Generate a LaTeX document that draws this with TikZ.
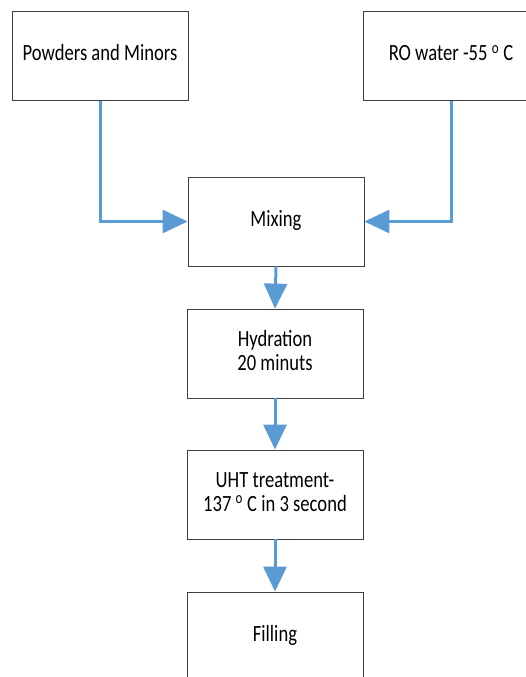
\documentclass[tikz,border=0pt]{standalone}
\usepackage{fontspec}
\usepackage{graphicx}
\setmainfont{Carlito}
\usetikzlibrary{arrows.meta}
\definecolor{flowblue}{RGB}{91,155,213}
\newcommand{\tall}[1]{\raisebox{-3pt}{\scalebox{1}[1.25]{\begin{tabular}{@{}c@{}}#1\end{tabular}}}}

\begin{document}
\begin{tikzpicture}[
  x=1pt, y=-1pt,
  font=\fontsize{18.6}{19.5}\selectfont,
  box/.style={draw=black!75, line width=0.8pt, fill=white, align=center,
    minimum width=176pt, minimum height=89pt, inner sep=0pt},
  flow/.style={-{Triangle[length=25pt, width=23pt]}, flowblue, line width=3pt},
]
\clip (0,0) rectangle (526,677);

% ---------- INPUTS ----------
\node[box] (pw) at (100,56) {\tall{Powders and Minors}};
\node[box] (ro) at (451,56) {\tall{RO water -55 \textsuperscript{o} C}};

% ---------- PROCESS ----------
\node[box] (mix) at (276,221.5) {\tall{Mixing}};
\node[box] (hyd) at (275,353.5) {\tall{Hydration\\20 minuts}};
\node[box] (uht) at (275,494.5) {\tall{UHT treatment-\\137 \textsuperscript{o} C in 3 second}};
\node[box] (fil) at (275,636.5) {\tall{Filling}};

% ---------- FLOW ARROWS ----------
\draw[flow] (pw.south) |- (mix.west);
\draw[flow] (ro.south) |- (mix.east);
\draw[flow] (mix.south) -- (hyd.north);
\draw[flow] (hyd.south) -- (uht.north);
\draw[flow] (uht.south) -- (fil.north);

\end{tikzpicture}
\end{document}
